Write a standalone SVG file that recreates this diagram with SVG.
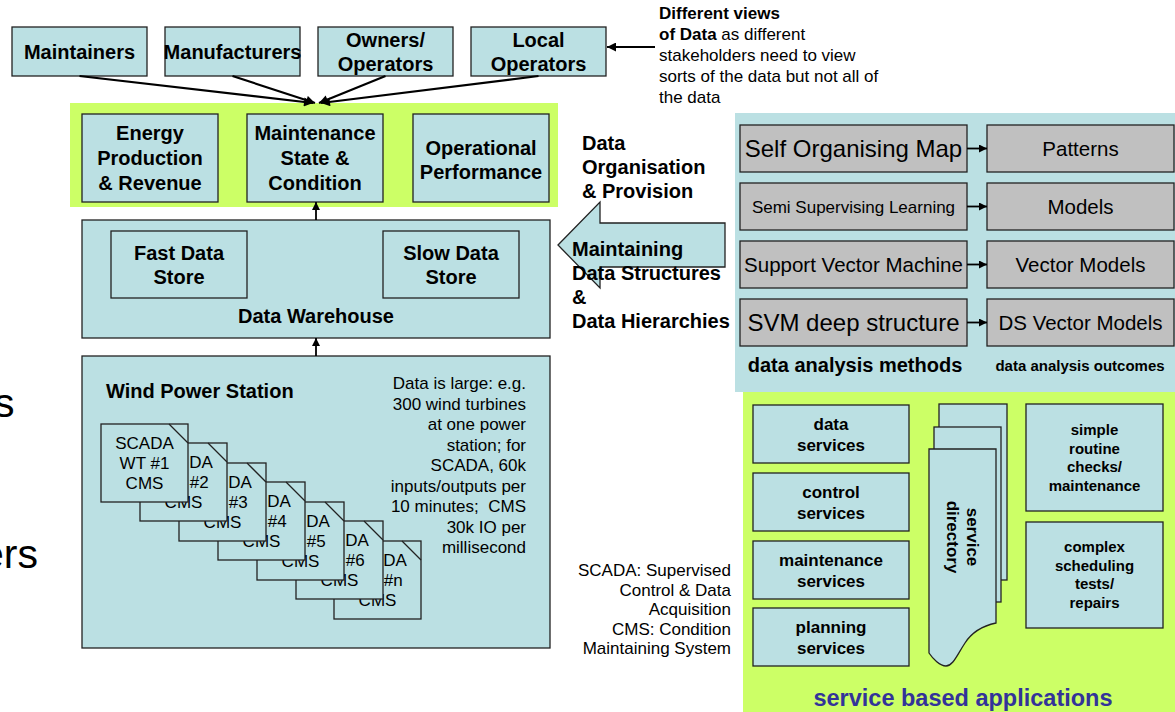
<svg xmlns="http://www.w3.org/2000/svg" width="1175" height="712" viewBox="0 0 1175 712">
<defs>
<marker id="ah" viewBox="0 0 10 10" refX="10" refY="5" markerWidth="11" markerHeight="9" markerUnits="userSpaceOnUse" orient="auto"><path d="M0,0 L10,5 L0,10 Z" fill="#000"/></marker>
<marker id="ahs" viewBox="0 0 10 10" refX="10" refY="5" markerWidth="9" markerHeight="8" markerUnits="userSpaceOnUse" orient="auto"><path d="M0,0 L10,5 L0,10 Z" fill="#000"/></marker>
<style>
.box{fill:#BBE0E3;stroke:#222;stroke-width:1.3}
.gray{fill:#C0C0C0;stroke:#222;stroke-width:1.3}
.t{font-family:"Liberation Sans",Arial,sans-serif;fill:#000}
.b{font-weight:bold}
.m{text-anchor:middle}
.e{text-anchor:end}
.s20{font-size:20px}
.s17{font-size:17px}
.s15{font-size:15px}
.con{stroke:#000;stroke-width:2.2;fill:none}
.con2{stroke:#000;stroke-width:1.8;fill:none}
.diag{stroke:#222;stroke-width:1.3}
</style>
</defs>
<rect width="1175" height="712" fill="#fff"/>

<!-- clipped text from left edge -->
<text class="t" x="-6" y="417" font-size="41">s</text>
<text class="t" x="-19" y="568" font-size="41">ers</text>

<!-- background panels -->
<rect x="70" y="103" width="488" height="104" fill="#CCFF66"/>
<rect x="735" y="113" width="440" height="279" fill="#BBE0E3"/>
<rect x="743" y="392" width="432" height="320" fill="#CCFF66"/>

<!-- stakeholders -->
<g id="maintainers"><rect class="box" x="12" y="27" width="135" height="49"/><text class="t b m s20" x="79.5" y="59">Maintainers</text></g>
<g id="manufacturers"><rect class="box" x="165" y="27" width="135" height="49"/><text class="t b m s20" x="232.5" y="59">Manufacturers</text></g>
<g id="owners"><rect class="box" x="318" y="27" width="135" height="49"/><text class="t b m s20" x="385.5" y="47">Owners/</text><text class="t b m s20" x="385.5" y="71">Operators</text></g>
<g id="local"><rect class="box" x="471" y="27" width="135" height="49"/><text class="t b m s20" x="538.5" y="47">Local</text><text class="t b m s20" x="538.5" y="71">Operators</text></g>

<g id="views-note">
<text class="t s17" x="659" y="18.5"><tspan class="b">Different views</tspan></text>
<text class="t s17" x="659" y="39.5"><tspan class="b">of Data</tspan> as different</text>
<text class="t s17" x="659" y="60.5">stakeholders need to view</text>
<text class="t s17" x="659" y="81.5">sorts of the data but not all of</text>
<text class="t s17" x="659" y="102.5">the data</text>
</g>

<!-- views in green band -->
<g id="energy"><rect class="box" x="82" y="114" width="136" height="88"/><text class="t b m s20" x="150" y="140">Energy</text><text class="t b m s20" x="150" y="165">Production</text><text class="t b m s20" x="150" y="190">&amp; Revenue</text></g>
<g id="maintenance-state"><rect class="box" x="247" y="114" width="136" height="88"/><text class="t b m s20" x="315" y="140">Maintenance</text><text class="t b m s20" x="315" y="165">State &amp;</text><text class="t b m s20" x="315" y="190">Condition</text></g>
<g id="operational"><rect class="box" x="413" y="114" width="136" height="88"/><text class="t b m s20" x="481" y="155">Operational</text><text class="t b m s20" x="481" y="179">Performance</text></g>

<!-- data warehouse -->
<g id="data-warehouse">
<rect class="box" x="82" y="220" width="468" height="118"/>
<rect class="box" x="111" y="231" width="136" height="67"/>
<text class="t b m s20" x="179" y="260">Fast Data</text><text class="t b m s20" x="179" y="284">Store</text>
<rect class="box" x="383" y="231" width="136" height="67"/>
<text class="t b m s20" x="451" y="260">Slow Data</text><text class="t b m s20" x="451" y="284">Store</text>
<text class="t b m s20" x="316" y="323">Data Warehouse</text>
</g>

<!-- wind power station -->
<g id="wind-power-station">
<rect class="box" x="82" y="356" width="468" height="292"/>
<text class="t b s20" x="106" y="398">Wind Power Station</text>
<g class="t s17 e">
<text x="526" y="389">Data is large: e.g.</text>
<text x="526" y="409.5">300 wind turbines</text>
<text x="526" y="430">at one power</text>
<text x="526" y="450.5">station; for</text>
<text x="526" y="471">SCADA, 60k</text>
<text x="526" y="491.5">inputs/outputs per</text>
<text x="526" y="512">10 minutes;&#160; CMS</text>
<text x="526" y="532.5">30k IO per</text>
<text x="526" y="553">millisecond</text>
</g>
<g id="wt7"><rect class="box" x="334" y="541" width="87" height="78"/><line class="diag" x1="402" y1="541" x2="421" y2="560"/><text class="t s17" x="383.2" y="566">DA</text><text class="t s17" x="383.7" y="586">#n</text><text class="t m s17" x="377.5" y="606">CMS</text></g>
<g id="wt6"><rect class="box" x="296" y="521" width="87" height="78"/><line class="diag" x1="364" y1="521" x2="383" y2="540"/><text class="t s17" x="345.2" y="546">DA</text><text class="t s17" x="345.7" y="566">#6</text><text class="t m s17" x="339.5" y="586">CMS</text></g>
<g id="wt5"><rect class="box" x="257" y="502" width="87" height="78"/><line class="diag" x1="325" y1="502" x2="344" y2="521"/><text class="t s17" x="306.2" y="527">DA</text><text class="t s17" x="306.7" y="547">#5</text><text class="t m s17" x="300.5" y="567">CMS</text></g>
<g id="wt4"><rect class="box" x="218" y="482" width="87" height="78"/><line class="diag" x1="286" y1="482" x2="305" y2="501"/><text class="t s17" x="267.2" y="507">DA</text><text class="t s17" x="267.7" y="527">#4</text><text class="t m s17" x="261.5" y="547">CMS</text></g>
<g id="wt3"><rect class="box" x="179" y="463" width="87" height="78"/><line class="diag" x1="247" y1="463" x2="266" y2="482"/><text class="t s17" x="228.2" y="488">DA</text><text class="t s17" x="228.7" y="508">#3</text><text class="t m s17" x="222.5" y="528">CMS</text></g>
<g id="wt2"><rect class="box" x="140" y="443" width="87" height="78"/><line class="diag" x1="208" y1="443" x2="227" y2="462"/><text class="t s17" x="189.2" y="468">DA</text><text class="t s17" x="189.7" y="488">#2</text><text class="t m s17" x="183.5" y="508">CMS</text></g>
<g id="wt1"><rect class="box" x="101" y="424" width="87" height="78"/><line class="diag" x1="169" y1="424" x2="188" y2="443"/><text class="t m s17" x="144.5" y="449">SCADA</text><text class="t m s17" x="144.5" y="469">WT #1</text><text class="t m s17" x="144.5" y="489">CMS</text></g>
</g>

<!-- big arrow: data organisation & provision -->
<g id="data-organisation">
<polygon class="box" points="558,245 600,202 600,223 725,223 725,267 600,267 600,288"/>
<text class="t b s20" x="582" y="150">Data</text>
<text class="t b s20" x="582" y="174">Organisation</text>
<text class="t b s20" x="582" y="198">&amp; Provision</text>
<text class="t b s20" x="572" y="256">Maintaining</text>
<text class="t b s20" x="572" y="280">Data Structures</text>
<text class="t b s20" x="572" y="304">&amp;</text>
<text class="t b s20" x="572" y="328">Data Hierarchies</text>
</g>

<!-- analysis methods -->
<g id="som"><rect class="gray" x="740" y="125" width="227" height="47"/><text class="t m" font-size="24" x="853.5" y="157">Self Organising Map</text></g>
<g id="patterns"><rect class="gray" x="987" y="125" width="187" height="47"/><text class="t m" font-size="20.5" x="1080.5" y="155.5">Patterns</text></g>
<g id="ssl"><rect class="gray" x="740" y="183" width="227" height="47"/><text class="t m" font-size="17" x="853.5" y="212.5">Semi Supervising Learning</text></g>
<g id="models"><rect class="gray" x="987" y="183" width="187" height="47"/><text class="t m" font-size="20.5" x="1080.5" y="214">Models</text></g>
<g id="svm"><rect class="gray" x="740" y="241" width="227" height="47"/><text class="t m" font-size="20.5" x="853.5" y="272">Support Vector Machine</text></g>
<g id="vector-models"><rect class="gray" x="987" y="241" width="187" height="47"/><text class="t m" font-size="20.5" x="1080.5" y="272">Vector Models</text></g>
<g id="svm-deep"><rect class="gray" x="740" y="299" width="227" height="47"/><text class="t m" font-size="24" x="853.5" y="331">SVM deep structure</text></g>
<g id="ds-vector-models"><rect class="gray" x="987" y="299" width="187" height="47"/><text class="t m" font-size="20.5" x="1080.5" y="330">DS Vector Models</text></g>
<text class="t b m s20" x="855" y="372">data analysis methods</text>
<text class="t b m s15" x="1080" y="371">data analysis outcomes</text>

<!-- service based applications -->
<g id="data-services"><rect class="box" x="753" y="405" width="156" height="58"/><text class="t b m s17" x="831" y="429.5">data</text><text class="t b m s17" x="831" y="450.5">services</text></g>
<g id="control-services"><rect class="box" x="753" y="473" width="156" height="58"/><text class="t b m s17" x="831" y="497.5">control</text><text class="t b m s17" x="831" y="518.5">services</text></g>
<g id="maintenance-services"><rect class="box" x="753" y="541" width="156" height="58"/><text class="t b m s17" x="831" y="565.5">maintenance</text><text class="t b m s17" x="831" y="586.5">services</text></g>
<g id="planning-services"><rect class="box" x="753" y="608" width="156" height="58"/><text class="t b m s17" x="831" y="632.5">planning</text><text class="t b m s17" x="831" y="653.5">services</text></g>
<g id="service-directory">
<rect class="box" x="939" y="404" width="68" height="176"/>
<rect class="box" x="934" y="427" width="67" height="175"/>
<path class="box" d="M929,449 H996 V623 C982,626 972,632 965,643 C957,655 953,666 946,666 C940,666 933,659 929,653 Z"/>
<g transform="translate(959,537) rotate(90)"><text class="t b m s17" x="0" y="-8">service</text><text class="t b m s17" x="0" y="12">directory</text></g>
</g>
<g id="simple-checks"><rect class="box" x="1026" y="404" width="137" height="107"/><text class="t b m s15" x="1094.5" y="435">simple</text><text class="t b m s15" x="1094.5" y="453.5">routine</text><text class="t b m s15" x="1094.5" y="472">checks/</text><text class="t b m s15" x="1094.5" y="490.5">maintenance</text></g>
<g id="complex-scheduling"><rect class="box" x="1026" y="522" width="137" height="106"/><text class="t b m s15" x="1094.5" y="552">complex</text><text class="t b m s15" x="1094.5" y="570.5">scheduling</text><text class="t b m s15" x="1094.5" y="589">tests/</text><text class="t b m s15" x="1094.5" y="607.5">repairs</text></g>
<text class="t b m" font-size="23.5" style="fill:#333399" x="963" y="706">service based applications</text>

<!-- legend -->
<g class="t s17 e">
<text x="731" y="576">SCADA: Supervised</text>
<text x="731" y="595.5">Control &amp; Data</text>
<text x="731" y="615">Acquisition</text>
<text x="731" y="634.5">CMS: Condition</text>
<text x="731" y="654">Maintaining System</text>
</g>

<!-- connectors -->
<g id="connectors">
<line class="con" x1="79.5" y1="76" x2="313" y2="103" marker-end="url(#ah)"/>
<line class="con" x1="232.5" y1="76" x2="315" y2="103" marker-end="url(#ah)"/>
<line class="con" x1="385.5" y1="76" x2="319" y2="103" marker-end="url(#ah)"/>
<line class="con" x1="538.5" y1="76" x2="321" y2="103" marker-end="url(#ah)"/>
<line class="con" x1="655" y1="47" x2="607" y2="47" marker-end="url(#ah)"/>
<line class="con2" x1="316" y1="220" x2="316" y2="202" marker-end="url(#ahs)"/>
<line class="con2" x1="316" y1="356" x2="316" y2="338" marker-end="url(#ahs)"/>
<line class="con2" x1="967" y1="148.5" x2="987" y2="148.5" marker-end="url(#ahs)"/>
<line class="con2" x1="967" y1="206.5" x2="987" y2="206.5" marker-end="url(#ahs)"/>
<line class="con2" x1="967" y1="264.5" x2="987" y2="264.5" marker-end="url(#ahs)"/>
<line class="con2" x1="967" y1="322.5" x2="987" y2="322.5" marker-end="url(#ahs)"/>
</g>
</svg>
